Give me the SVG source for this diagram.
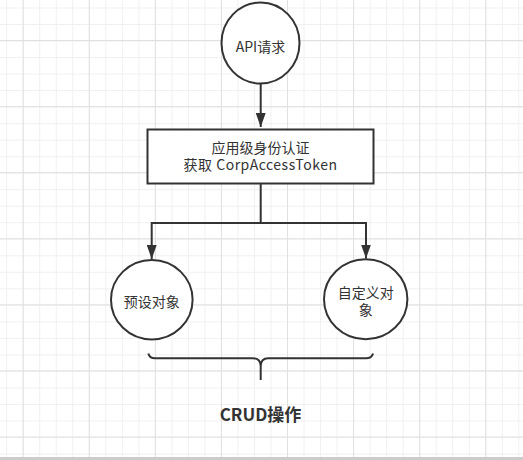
<svg xmlns="http://www.w3.org/2000/svg" width="523" height="460" viewBox="0 0 523 460">
<defs>
<pattern id="minor" patternUnits="userSpaceOnUse" x="6.2" y="7.5" width="16.52" height="16.52">
<path d="M0.5 0V16.52M0 0.5H16.52" fill="none" stroke="#f0f0f0" stroke-width="1"/>
</pattern>
<pattern id="major" patternUnits="userSpaceOnUse" x="22.7" y="40" width="66.08" height="66.08">
<path d="M0.5 0V66.08M0 0.5H66.08" fill="none" stroke="#e0e0e0" stroke-width="1"/>
</pattern>
<marker id="arr" viewBox="0 0 14 10" refX="14" refY="5" markerWidth="14" markerHeight="10" markerUnits="userSpaceOnUse" orient="auto">
<path d="M0 0L14 5L0 10Z" fill="#333"/>
</marker>
<style>
.shape{fill:#fff;stroke:#333;stroke-width:2}
.edge{fill:none;stroke:#333;stroke-width:2}
.t{font-family:"Noto Sans CJK SC","Noto Sans",sans-serif;font-size:14px;fill:#333;text-anchor:middle}
.b{font-family:"Noto Sans CJK SC","Noto Sans",sans-serif;font-size:17px;font-weight:bold;fill:#333;text-anchor:middle}
</style>
</defs>
<rect width="523" height="460" fill="#fff"/>
<rect width="523" height="460" fill="url(#minor)"/>
<rect width="523" height="460" fill="url(#major)"/>
<rect x="0" y="457" width="523" height="3" fill="#cccccc"/>
<g id="connectors">
<path class="edge" d="M260.7 84V127" marker-end="url(#arr)"/>
<path class="edge" d="M260.7 183.5V223H151.7V259" marker-end="url(#arr)"/>
<path class="edge" d="M260.7 223H366V258.5" marker-end="url(#arr)"/>
</g>
<g id="api">
<ellipse class="shape" cx="260.5" cy="43" rx="39" ry="40.5"/>
<text class="t" x="260.5" y="52">API请求</text>
</g>
<g id="auth">
<rect class="shape" x="147.5" y="129.5" width="226" height="54"/>
<text class="t" x="260.5" y="153">应用级身份认证</text>
<text class="t" x="260.5" y="170" letter-spacing="0.5">获取 CorpAccessToken</text>
</g>
<g id="preset">
<ellipse class="shape" cx="151.8" cy="299.7" rx="40.8" ry="39.7"/>
<text class="t" x="151.8" y="307">预设对象</text>
</g>
<g id="custom">
<ellipse class="shape" cx="365.7" cy="299.3" rx="41.7" ry="40"/>
<text class="t" x="365.7" y="298">自定义对</text>
<text class="t" x="365.7" y="314.5">象</text>
</g>
<g id="brace">
<path class="edge" d="M148.3 353.5Q149.5 358.3 155 358.3H253Q260.5 358.3 260.7 366V380M260.7 366Q261 358.3 268 358.3H366Q371.8 358.3 373 353.5"/>
</g>
<g id="crud">
<text class="b" x="260.5" y="421">CRUD操作</text>
</g>
</svg>
